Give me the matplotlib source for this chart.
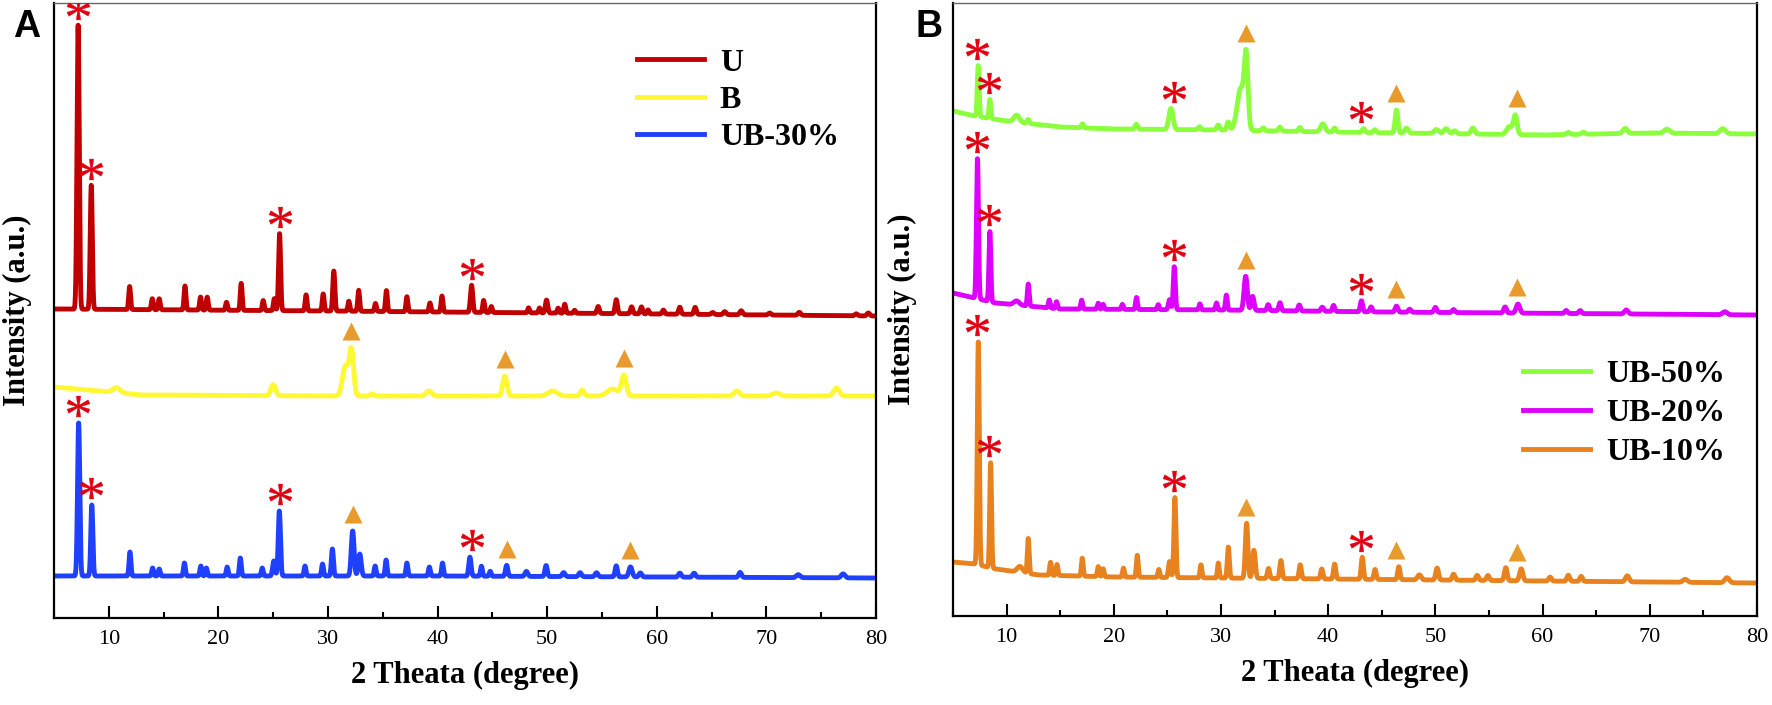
import numpy as np
import matplotlib
matplotlib.use("Agg")
import matplotlib.pyplot as plt
from matplotlib.path import Path
from matplotlib.textpath import TextPath
from matplotlib.font_manager import FontProperties
from matplotlib.transforms import ScaledTranslation
from matplotlib.ticker import MultipleLocator

# ---- data: (2theta, height above baseline, fwhm) ----
U_BASE = [(5, 309), (30, 307), (80, 302)]
U_PEAKS = [(7.2, 284, 0.24), (8.4, 124, 0.22), (11.9, 23, 0.2), (13.97, 11, 0.2),
           (14.6, 11, 0.2), (16.95, 24, 0.2), (18.37, 13, 0.2), (18.98, 13, 0.2),
           (20.74, 8, 0.2), (22.08, 27, 0.2), (24.09, 10, 0.2), (25.1, 12, 0.2),
           (25.58, 77, 0.22), (28.0, 16, 0.2), (29.56, 17, 0.2), (30.53, 40, 0.22),
           (31.9, 10, 0.2), (32.8, 21, 0.2), (34.33, 8, 0.2), (35.33, 21, 0.2),
           (37.2, 15, 0.2), (39.3, 9, 0.2), (40.4, 16, 0.2), (43.1, 27, 0.25),
           (44.2, 12, 0.2), (44.9, 6, 0.2), (48.3, 5, 0.2), (49.3, 5, 0.2),
           (49.94, 13, 0.25), (51.0, 5, 0.2), (51.6, 9, 0.2), (52.5, 3, 0.2),
           (54.65, 7, 0.25), (56.3, 14, 0.25), (57.7, 7, 0.25), (58.6, 7, 0.25),
           (59.2, 4, 0.2), (60.6, 4, 0.25), (62.1, 7, 0.25), (63.5, 7, 0.25),
           (65.1, 2, 0.3), (66.2, 3, 0.3), (67.7, 4, 0.3), (70.3, 2, 0.3),
           (73.0, 3, 0.3), (78.2, 2, 0.3), (79.3, 3, 0.3)]

B_BASE = [(5, 231), (8, 228), (13, 223), (30, 222), (80, 222)]
B_PEAKS = [(10.7, 5, 0.8), (25.0, 11, 0.5), (31.6, 30, 0.65), (32.15, 44, 0.45),
           (34.0, 2, 0.4), (39.2, 5, 0.6), (46.14, 20, 0.45), (50.5, 5, 1.0),
           (53.2, 6, 0.4), (56.0, 7, 1.2), (57.0, 20, 0.5), (67.3, 5, 0.6),
           (70.9, 3, 0.8), (76.4, 8, 0.6)]

UB30_BASE = [(5, 42), (40, 42), (80, 40)]
UB30_PEAKS = [(7.25, 153, 0.24), (8.45, 71, 0.22), (11.93, 24, 0.2), (14.0, 8, 0.2),
              (14.6, 7, 0.2), (16.9, 13, 0.2), (18.4, 10, 0.2), (18.9, 8, 0.2),
              (20.8, 9, 0.2), (22.0, 18, 0.2), (24.0, 8, 0.2), (25.05, 15, 0.25),
              (25.56, 65, 0.24), (27.9, 10, 0.2), (29.5, 12, 0.2), (30.4, 27, 0.22),
              (32.25, 45, 0.3), (32.9, 22, 0.3), (34.3, 10, 0.2), (35.3, 16, 0.2),
              (37.2, 13, 0.2), (39.25, 9, 0.2), (40.45, 13, 0.2), (42.95, 19, 0.25),
              (44.0, 10, 0.2), (44.8, 5, 0.2), (46.3, 11, 0.25), (48.1, 5, 0.3),
              (49.9, 11, 0.25), (51.5, 4, 0.3), (53.0, 4, 0.3), (54.5, 4, 0.3),
              (56.3, 11, 0.25), (57.6, 10, 0.35), (58.5, 4, 0.3), (62.1, 4, 0.3),
              (63.4, 4, 0.3), (67.6, 5, 0.3), (72.9, 3, 0.4), (77.0, 4, 0.4)]

UB50_BASE = [(5, 505), (7, 500), (10, 495), (15, 489), (20, 487), (30, 486),
             (40, 484), (60, 481), (70, 483), (80, 482)]
UB50_PEAKS = [(7.35, 51, 0.2), (8.44, 19, 0.2), (10.93, 7, 0.6), (12.02, 4, 0.25),
              (17.08, 4, 0.25), (22.1, 5, 0.3), (25.33, 21, 0.45), (28.0, 3, 0.3),
              (29.74, 5, 0.3), (30.67, 8, 0.3), (31.85, 42, 0.8), (32.35, 66, 0.4),
              (33.94, 3, 0.3), (35.5, 4, 0.3), (37.36, 4, 0.3), (39.5, 8, 0.5),
              (40.6, 4, 0.3), (43.3, 4, 0.3), (44.35, 3, 0.3), (46.37, 23, 0.3),
              (47.3, 5, 0.4), (50.1, 4, 0.5), (51.0, 5, 0.5), (51.8, 3, 0.4),
              (53.5, 6, 0.4), (56.9, 8, 0.6), (57.45, 19, 0.4), (62.4, 2, 0.4),
              (63.8, 2, 0.4), (67.7, 5, 0.5), (71.6, 4, 0.6), (76.8, 5, 0.6)]

UB20_BASE = [(5, 323), (7, 318), (9, 313), (15, 307), (30, 306), (45, 304), (80, 301)]
UB20_PEAKS = [(7.28, 140, 0.22), (8.44, 70, 0.2), (10.93, 4, 0.6), (12.02, 22, 0.2),
              (13.98, 8, 0.2), (14.66, 7, 0.2), (17.0, 9, 0.2), (18.55, 6, 0.2),
              (19.0, 5, 0.2), (20.8, 5, 0.2), (22.12, 12, 0.2), (24.14, 5, 0.2),
              (25.2, 10, 0.25), (25.64, 43, 0.22), (28.03, 6, 0.2), (29.58, 7, 0.2),
              (30.5, 15, 0.2), (32.3, 34, 0.35), (32.95, 14, 0.3), (34.4, 6, 0.25),
              (35.5, 8, 0.25), (37.3, 6, 0.25), (39.45, 4, 0.3), (40.5, 6, 0.25),
              (43.1, 11, 0.25), (44.0, 5, 0.25), (46.37, 6, 0.3), (47.6, 3, 0.3),
              (50.0, 5, 0.3), (51.7, 3, 0.3), (56.5, 6, 0.3), (57.7, 9, 0.4),
              (62.2, 3, 0.3), (63.5, 3, 0.3), (67.8, 4, 0.4), (77.0, 3, 0.5)]

UB10_BASE = [(5, 54), (7, 52), (9, 47), (13, 41), (20, 39), (30, 38), (50, 36), (80, 33)]
UB10_PEAKS = [(7.36, 223, 0.22), (8.51, 105, 0.2), (11.24, 6, 0.6), (12.02, 35, 0.2),
              (14.1, 13, 0.2), (14.7, 11, 0.2), (17.06, 18, 0.2), (18.55, 10, 0.2),
              (19.0, 8, 0.2), (20.9, 9, 0.2), (22.19, 22, 0.2), (24.2, 8, 0.2),
              (25.2, 16, 0.25), (25.7, 80, 0.22), (28.13, 13, 0.2), (29.75, 15, 0.2),
              (30.68, 31, 0.22), (32.39, 55, 0.28), (33.07, 28, 0.3), (34.43, 10, 0.25),
              (35.59, 18, 0.25), (37.39, 14, 0.25), (39.4, 10, 0.25), (40.6, 15, 0.25),
              (43.18, 22, 0.25), (44.37, 10, 0.25), (46.59, 13, 0.25), (48.5, 5, 0.4),
              (50.16, 12, 0.3), (51.7, 6, 0.3), (53.9, 5, 0.3), (54.9, 5, 0.3),
              (56.56, 13, 0.3), (58.0, 12, 0.35), (60.7, 4, 0.3), (62.4, 6, 0.3),
              (63.6, 5, 0.3), (67.9, 6, 0.4), (73.3, 3, 0.5), (77.2, 5, 0.5)]

# peaks flagged in the figure: * = U phase, triangle = B phase
U_STARS = [7.2, 8.4, 25.58, 43.1]
B_TRIS = [32.1, 46.14, 57.0]
MIX_TRIS = [32.3, 46.3, 57.6]

COLORS = {"U": "#C00000", "B": "#FFF833", "UB-30%": "#2040FF",
          "UB-50%": "#8CFF3C", "UB-20%": "#DD00FF", "UB-10%": "#E8821E"}
STAR_COLOR = "#E00010"
TRI_COLOR = "#E89A2C"

SERIF = "Liberation Serif"
SANS = "Liberation Sans"

tt = np.linspace(5, 80, 7501)


def pattern(base, peaks):
    bx, by = zip(*base)
    y = np.interp(tt, bx, by)
    for pos, h, w in peaks:
        y = y + h * np.exp(-4 * np.log(2) * (tt - pos) ** 2 / w ** 2)
    return y


# asterisk marker from the serif glyph, centred (ignore CLOSEPOLY dummies)
_tp = TextPath((0, 0), "*", size=1, prop=FontProperties(family=SERIF))
_v = _tp.vertices.copy()
_real = _tp.codes != Path.CLOSEPOLY
_c = (_v[_real].min(axis=0) + _v[_real].max(axis=0)) / 2
_v = _v - _c
_v[~_real] = 0
STAR = Path(_v, _tp.codes)

fig = plt.figure(figsize=(17.72, 7.05), dpi=100)
axA = fig.add_axes([54 / 1772, 87 / 705, 822 / 1772, 615 / 705])
axB = fig.add_axes([953 / 1772, 89 / 705, 804 / 1772, 613 / 705])


def mark(ax, y, positions, kind):
    off = ScaledTranslation(0, 12 / 72, fig.dpi_scale_trans)
    for p in positions:
        sel = np.abs(tt - p) < 0.45
        top = y[sel].max()
        if kind == "star":
            ax.plot(p, top, marker=STAR, ms=16.5, color=STAR_COLOR,
                    mec=STAR_COLOR, mew=0.3, transform=ax.transData + off, zorder=5)
        else:
            ax.plot(p, top, marker="^", ms=12.5, color=TRI_COLOR, mec="none",
                    transform=ax.transData + off, zorder=5)


def style(ax, ylim):
    ax.set_xlim(5, 80)
    ax.set_ylim(*ylim)
    ax.xaxis.set_major_locator(MultipleLocator(10))
    ax.xaxis.set_minor_locator(MultipleLocator(5))
    ax.tick_params(axis="x", which="major", direction="in", length=8.5, width=1.5,
                   pad=9, labelsize=16)
    ax.tick_params(axis="x", which="minor", direction="in", length=4.5, width=1.5)
    ax.set_yticks([])
    for lab in ax.get_xticklabels():
        lab.set_fontfamily(SERIF)
    for side in ("left", "bottom", "right"):
        ax.spines[side].set_linewidth(1.6)
    ax.spines["top"].set_linewidth(1.0)
    ax.spines["top"].set_color("#666666")
    ax.set_xlabel("2 Theata (degree)", fontfamily=SERIF, fontweight="bold",
                  fontsize=22, labelpad=8)
    ax.set_ylabel("Intensity (a.u.)", fontfamily=SERIF, fontweight="bold",
                  fontsize=22)


# ---- panel A ----
yU = pattern(U_BASE, U_PEAKS)
yB = pattern(B_BASE, B_PEAKS)
y30 = pattern(UB30_BASE, UB30_PEAKS)
axA.plot(tt, yU, color=COLORS["U"], lw=3.5, label="U")
axA.plot(tt, yB, color=COLORS["B"], lw=3.5, label="B")
axA.plot(tt, y30, color=COLORS["UB-30%"], lw=3.5, label="UB-30%")
mark(axA, yU, U_STARS, "star")
mark(axA, yB, B_TRIS, "tri")
mark(axA, y30, U_STARS, "star")
mark(axA, y30, MIX_TRIS, "tri")
style(axA, (0, 615))
axA.yaxis.set_label_coords(-0.027, 0.5)
axA.legend(loc="center", bbox_to_anchor=(0.832, 0.842), frameon=False,
           prop=FontProperties(family=SERIF, weight="bold", size=23),
           handlelength=2.1, handletextpad=0.5, labelspacing=0.25)
fig.text(13 / 1772, 1 - 37 / 705, "A", fontfamily=SANS, fontweight="bold",
         fontsize=27, va="baseline")

# ---- panel B ----
y50 = pattern(UB50_BASE, UB50_PEAKS)
y20 = pattern(UB20_BASE, UB20_PEAKS)
y10 = pattern(UB10_BASE, UB10_PEAKS)
axB.plot(tt, y50, color=COLORS["UB-50%"], lw=3.5, label="UB-50%")
axB.plot(tt, y20, color=COLORS["UB-20%"], lw=3.5, label="UB-20%")
axB.plot(tt, y10, color=COLORS["UB-10%"], lw=3.5, label="UB-10%")
for yy in (y50, y20, y10):
    mark(axB, yy, U_STARS, "star")
    mark(axB, yy, MIX_TRIS, "tri")
style(axB, (0, 613))
axB.yaxis.set_label_coords(-0.045, 0.5)
axB.legend(loc="center", bbox_to_anchor=(0.835, 0.33), frameon=False,
           prop=FontProperties(family=SERIF, weight="bold", size=23),
           handlelength=2.1, handletextpad=0.5, labelspacing=0.3)
fig.text(915 / 1772, 1 - 37 / 705, "B", fontfamily=SANS, fontweight="bold",
         fontsize=27, va="baseline")

fig.savefig("out.png", dpi=100)
